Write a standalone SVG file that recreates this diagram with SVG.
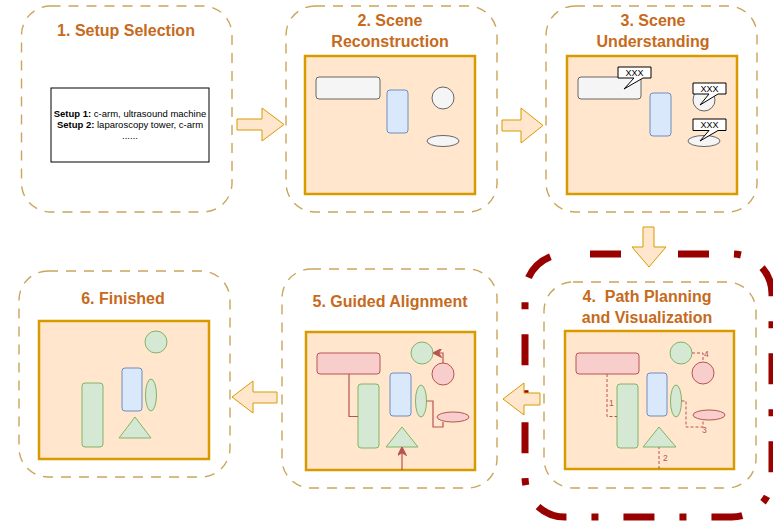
<svg xmlns="http://www.w3.org/2000/svg" width="773" height="525" viewBox="0 0 773 525">
  <defs>
    <style>
      .panel { fill: #ffffff; stroke: #c9a65a; stroke-width: 1.4; stroke-dasharray: 10 8; }
      .title { font-family: "Liberation Sans", Arial, sans-serif; font-weight: bold; font-size: 16px; fill: #c66a1c; text-anchor: middle; }
      .scene { fill: #ffe6cc; stroke: #d79b00; stroke-width: 2.5; }
      .gray { fill: #f5f5f5; stroke: #666666; stroke-width: 1; }
      .blue { fill: #dae8fc; stroke: #6c8ebf; stroke-width: 1; }
      .green { fill: #d5e8d4; stroke: #82b366; stroke-width: 1; }
      .red { fill: #f8cecc; stroke: #b85450; stroke-width: 1; }
      .flow { fill: #ffe6cc; stroke: #d79b00; stroke-width: 1; }
      .plan { fill: none; stroke: #b85450; stroke-width: 1; stroke-dasharray: 3 2; }
      .guide { fill: none; stroke: #b85450; stroke-width: 1.2; }
      .step { font-family: "Liberation Sans", Arial, sans-serif; font-size: 8.5px; fill: #b85450; }
      .callout { fill: #ffffff; stroke: #000000; stroke-width: 1; }
      .xxx { font-family: "Liberation Sans", Arial, sans-serif; font-size: 9px; fill: #000000; text-anchor: middle; }
      .setup { font-family: "Liberation Sans", Arial, sans-serif; font-size: 9.5px; fill: #000000; text-anchor: middle; }
    </style>
    <marker id="head" viewBox="0 0 10 10" refX="9" refY="5" markerWidth="9" markerHeight="9" markerUnits="userSpaceOnUse" orient="auto">
      <path d="M0,0 L10,5 L0,10 L3,5 Z" fill="#b85450" stroke="#b85450" stroke-width="1"/>
    </marker>
  </defs>

  <!-- highlight frame around step 4 -->
  <rect id="highlight" x="525" y="254" width="247" height="263" rx="40" fill="none" stroke="#990000" stroke-width="7" stroke-dasharray="31 25 7 25" stroke-dashoffset="63"/>

  <!-- 1. Setup Selection -->
  <g id="step1">
    <rect class="panel" x="21.5" y="6" width="210.5" height="206" rx="29"/>
    <text class="title" x="126" y="36">1. Setup Selection</text>
    <rect x="51" y="88" width="158" height="74" fill="#ffffff" stroke="#000000" stroke-width="1"/>
    <text class="setup" x="130" y="116.5"><tspan font-weight="bold">Setup 1:</tspan> c-arm, ultrasound machine</text>
    <text class="setup" x="130" y="127.5"><tspan font-weight="bold">Setup 2:</tspan> laparoscopy tower, c-arm</text>
    <text class="setup" x="130" y="139">......</text>
  </g>

  <!-- 2. Scene Reconstruction -->
  <g id="step2">
    <rect class="panel" x="286" y="6" width="211" height="206" rx="29"/>
    <text class="title" x="390" y="26">2. Scene</text>
    <text class="title" x="390" y="47">Reconstruction</text>
    <rect class="scene" x="305" y="56" width="170" height="138"/>
    <rect class="gray" x="316" y="77" width="64" height="22" rx="3"/>
    <rect class="blue" x="387" y="90" width="21" height="43" rx="3"/>
    <circle class="gray" cx="443" cy="98" r="11"/>
    <ellipse class="gray" cx="443" cy="141" rx="16" ry="5.5"/>
  </g>

  <!-- 3. Scene Understanding -->
  <g id="step3">
    <rect class="panel" x="546" y="6" width="211" height="206" rx="29"/>
    <text class="title" x="653" y="26">3. Scene</text>
    <text class="title" x="653" y="47">Understanding</text>
    <rect class="scene" x="567" y="56" width="170" height="138"/>
    <rect class="gray" x="578" y="77" width="63" height="22" rx="3"/>
    <rect class="blue" x="650" y="93" width="21" height="43" rx="3"/>
    <circle class="gray" cx="704" cy="100" r="11"/>
    <ellipse class="gray" cx="704" cy="141" rx="16" ry="5.5"/>
    <path class="callout" d="M618,67 H651 V78 H643 L624,89 L634,78 H618 Z"/>
    <text class="xxx" x="634.5" y="76">XXX</text>
    <path class="callout" d="M693,83 H726 V94 H718 L700,105 L709,94 H693 Z"/>
    <text class="xxx" x="709.5" y="92">XXX</text>
    <path class="callout" d="M693,119 H726 V130.5 H718 L700,141 L709,130.5 H693 Z"/>
    <text class="xxx" x="709.5" y="128.3">XXX</text>
  </g>

  <!-- 4. Path Planning and Visualization -->
  <g id="step4">
    <rect class="panel" x="544" y="282" width="212" height="206" rx="29"/>
    <text class="title" x="647" y="302" style="white-space:pre">4.  Path Planning</text>
    <text class="title" x="647" y="323">and Visualization</text>
    <rect class="scene" x="565" y="331" width="169" height="138"/>
    <rect class="red" x="576" y="353" width="63" height="21" rx="3"/>
    <rect class="green" x="617" y="384" width="21" height="64" rx="3"/>
    <rect class="blue" x="647" y="373" width="20" height="43" rx="3"/>
    <ellipse class="green" cx="676" cy="401" rx="5.5" ry="16"/>
    <circle class="green" cx="681" cy="353" r="11"/>
    <circle class="red" cx="703" cy="373" r="11"/>
    <ellipse class="red" cx="709" cy="415" rx="16" ry="5"/>
    <polygon class="green" points="659,427 676,447 643,447"/>
  </g>

  <!-- 5. Guided Alignment -->
  <g id="step5">
    <rect class="panel" x="282" y="269" width="215" height="219" rx="29"/>
    <text class="title" x="390" y="307">5. Guided Alignment</text>
    <rect class="scene" x="306" y="332" width="169" height="138"/>
    <rect class="red" x="317" y="353" width="63" height="21" rx="3"/>
    <rect class="green" x="358" y="384" width="21" height="64" rx="3"/>
    <rect class="blue" x="390" y="373" width="21" height="43" rx="3"/>
    <ellipse class="green" cx="421" cy="401" rx="5.5" ry="16"/>
    <circle class="green" cx="422" cy="353" r="11"/>
    <circle class="red" cx="443" cy="374" r="11"/>
    <ellipse class="red" cx="453" cy="417" rx="16" ry="5"/>
    <polygon class="green" points="402,427 418,447 386,447"/>
  </g>

  <!-- 6. Finished -->
  <g id="step6">
    <rect class="panel" x="19" y="271" width="211" height="206" rx="29"/>
    <text class="title" x="123" y="304">6. Finished</text>
    <rect class="scene" x="39" y="321" width="170" height="138"/>
    <circle class="green" cx="156" cy="342" r="11"/>
    <rect class="blue" x="122" y="368" width="20" height="43" rx="3"/>
    <ellipse class="green" cx="151" cy="395" rx="5.5" ry="16"/>
    <rect class="green" x="82" y="383" width="21" height="64" rx="3"/>
    <polygon class="green" points="135,417 151,438 119,438"/>
  </g>

  <g id="connectors">
    <!-- flow between steps -->
    <path class="flow" d="M237,119 H262 V108 L284,124.5 L262,141 V130 H237 Z"/>
    <path class="flow" d="M502,120 H521 V108 L543,125.5 L521,143 V131 H502 Z"/>
    <path class="flow" d="M643,227 H654 V247 H666 L649,267 L632,247 H643 Z"/>
    <path class="flow" d="M540,393 H524 V383 L503,399 L524,415 V405 H540 Z"/>
    <path class="flow" d="M277,392 H253 V381 L232,397 L253,413 V403 H277 Z"/>

    <!-- planned paths (step 4) -->
    <path class="plan" d="M607,374 V416.5 H617"/>
    <path class="plan" d="M659,469 V447"/>
    <path class="plan" d="M681.5,401 H686 V427 H703 V420"/>
    <path class="plan" d="M692,353 H703 V362"/>
    <text class="step" x="609" y="406">1</text>
    <text class="step" x="663" y="461">2</text>
    <text class="step" x="702" y="433">3</text>
    <text class="step" x="704" y="357">4</text>

    <!-- guided moves (step 5) -->
    <path class="guide" d="M349,374 V416.5 H358"/>
    <path class="guide" d="M402,470 V447.5" marker-end="url(#head)"/>
    <path class="guide" d="M426.5,401 H433 V427 H443 V422"/>
    <path class="guide" d="M443,363 V353 H433.5" marker-end="url(#head)"/>
  </g>
</svg>
